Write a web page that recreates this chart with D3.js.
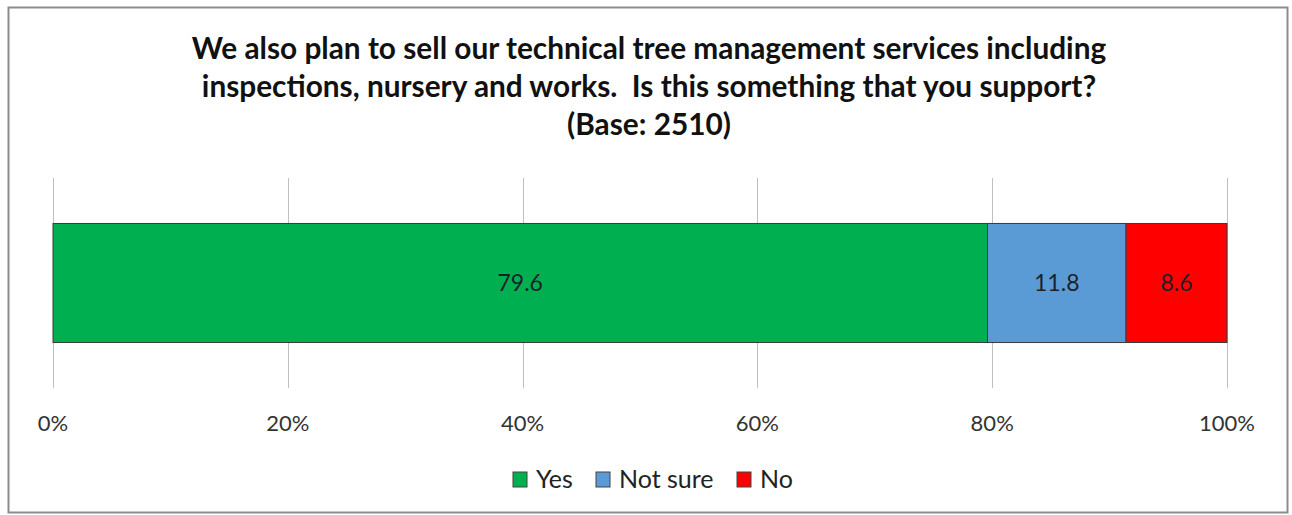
<!DOCTYPE html>
<html><head><meta charset="utf-8">
<script src="https://cdn.jsdelivr.net/npm/d3@7"></script>
<style>body{margin:0;background:#fff;}svg{display:block;}</style>
</head><body>
<svg id="c" width="1292" height="515"></svg>
<script>
const categories = ["Yes", "Not sure", "No"];
const values = [79.6, 11.8, 8.6];
const colors = ["#00B050", "#5B9BD5", "#FF0000"];
const tickValues = [0, 20, 40, 60, 80, 100];
const titleLines = ["We also plan to sell our technical tree management services including",
  "inspections, nursery and works.  Is this something that you support?",
  "(Base: 2510)"];

const svg = d3.select("#c");
const font = "Lato, 'Open Sans', sans-serif";
svg.append("rect").attr("x", 8.5).attr("y", 7.5).attr("width", 1279).attr("height", 505)
  .attr("fill", "#fff").attr("stroke", "#8c8c8c").attr("stroke-width", 2);

svg.append("g").selectAll("text").data(titleLines).join("text")
  .attr("x", 649).attr("y", (d, i) => 59 + i * 38)
  .attr("text-anchor", "middle").attr("font-family", font).attr("font-weight", "bold")
  .attr("font-size", 29.8).attr("fill", "#111").style("white-space", "pre").text(d => d);

const x = d3.scaleLinear().domain([0, 100]).range([53, 1227]);
const y = d3.scaleBand().domain(["q"]).range([178, 388]).paddingInner(0).paddingOuter(0.382);

svg.append("g").selectAll("line").data(tickValues).join("line")
  .attr("x1", d => Math.round(x(d)) + 0.5).attr("x2", d => Math.round(x(d)) + 0.5)
  .attr("y1", 178).attr("y2", 388).attr("stroke", "#bfbfbf").attr("stroke-width", 1);

const stack = [];
let acc = 0;
values.forEach((v, i) => { stack.push({cat: categories[i], v, x0: acc, x1: acc + v, c: colors[i]}); acc += v; });

const g = svg.append("g");
g.selectAll("rect").data(stack).join("rect")
  .attr("x", d => x(d.x0)).attr("width", d => x(d.x1) - x(d.x0))
  .attr("y", y("q")).attr("height", y.bandwidth())
  .attr("fill", d => d.c).attr("stroke", "#3a3a3a").attr("stroke-width", 1);
g.selectAll("text").data(stack).join("text")
  .attr("x", d => (x(d.x0) + x(d.x1)) / 2).attr("y", y("q") + y.bandwidth() / 2 + 8)
  .attr("text-anchor", "middle").attr("font-family", font).attr("font-size", 23)
  .attr("fill", "#1f1f2a").text(d => d.v.toFixed(1));

svg.append("g").selectAll("text").data(tickValues).join("text")
  .attr("x", d => x(d)).attr("y", 431).attr("text-anchor", "middle")
  .attr("font-family", font).attr("font-size", 22).attr("fill", "#333")
  .text(d => d + "%");

const legendX = [513, 596, 737];
const lg = svg.append("g").selectAll("g").data(stack).join("g")
  .attr("transform", (d, i) => `translate(${legendX[i]},472)`);
lg.append("rect").attr("width", 14).attr("height", 15).attr("fill", d => d.c)
  .attr("stroke", "#444").attr("stroke-width", 1);
lg.append("text").attr("x", 23).attr("y", 16).attr("font-family", font).attr("font-size", 25)
  .attr("fill", "#222").text(d => d.cat);
</script>
</body></html>
